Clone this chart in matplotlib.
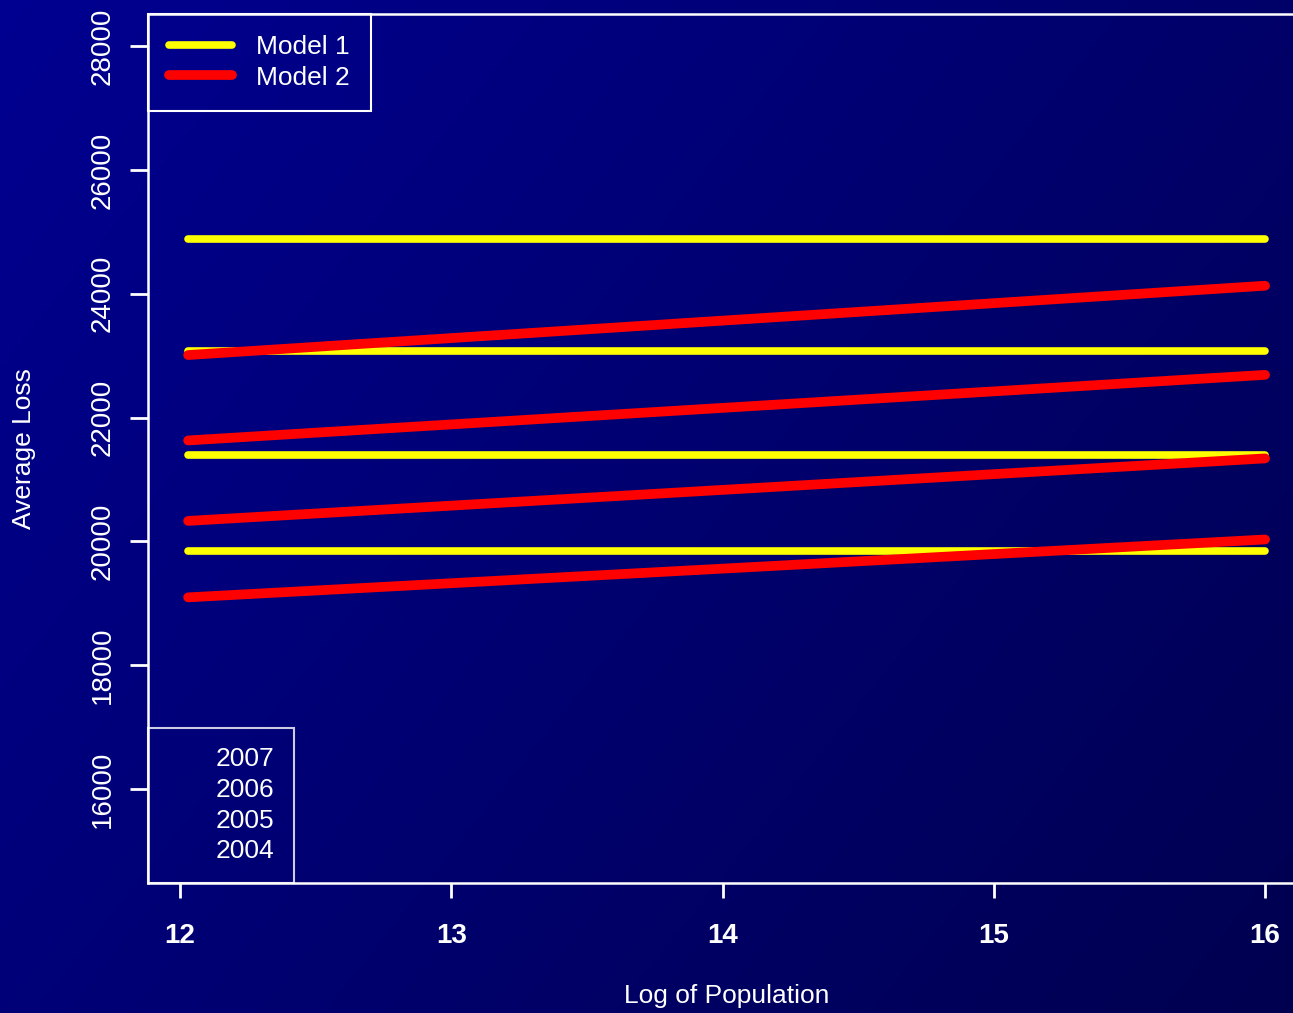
import numpy as np
import matplotlib
matplotlib.use("Agg")
import matplotlib.pyplot as plt
from matplotlib.lines import Line2D

plt.rcParams['font.family'] = ['Liberation Sans', 'DejaVu Sans']

# data
years = ['2007', '2006', '2005', '2004']
log_pop = [12.03, 16.0]
model1 = [24880, 23080, 21390, 19840]          # flat lines
model2_start = [23010, 21630, 20330, 19095]    # at log_pop[0]
model2_end = [24130, 22690, 21340, 20030]      # at log_pop[1]
xticks = [12, 13, 14, 15, 16]
yticks = [16000, 18000, 20000, 22000, 24000, 26000, 28000]

fig = plt.figure(figsize=(12.93, 10.13), dpi=100)

# diagonal blue gradient behind everything
bg = fig.add_axes([0, 0, 1, 1], zorder=-10)
gx, gy = np.meshgrid(np.linspace(0, 1, 300), np.linspace(0, 1, 300))
blue = (145 - 40 * gx - 25 * gy) / 255.0
img = np.zeros((300, 300, 3))
img[..., 2] = blue
bg.imshow(img, aspect='auto', extent=[0, 1, 0, 1], origin='upper')
bg.axis('off')

ax = fig.add_axes([148 / 1293, 130 / 1013, 1158 / 1293, 869 / 1013])
ax.set_facecolor('none')

for i in range(len(years)):
    ax.plot(log_pop, [model1[i], model1[i]], color='yellow', lw=5.5,
            solid_capstyle='round', zorder=2)
for i in range(len(years)):
    ax.plot(log_pop, [model2_start[i], model2_end[i]], color='red', lw=7,
            solid_capstyle='round', zorder=3)

ax.set_xlim(11.882, 16.151)
ax.set_ylim(14480, 28520)
ax.set_xticks(xticks)
ax.set_yticks(yticks)
ax.set_xticklabels([str(t) for t in xticks], fontweight='bold', fontsize=20)
ax.set_yticklabels([str(t) for t in yticks], rotation=90, va='center', fontsize=20)
ax.tick_params(axis='x', colors='white', length=11, width=2, pad=18)
ax.tick_params(axis='y', colors='white', length=13, width=2, pad=10)

for side in ['top', 'left', 'bottom']:
    ax.spines[side].set_color('white')
    ax.spines[side].set_linewidth(1.8)
ax.spines['right'].set_visible(False)

ax.set_xlabel('Log of Population', color='white', fontsize=19)
ax.set_ylabel('Average Loss', color='white', fontsize=19)
ax.xaxis.set_label_coords(0.5, -0.116)
ax.yaxis.set_label_coords(-0.097, 0.5)

handles = [Line2D([], [], color='yellow', lw=5.5, solid_capstyle='round'),
           Line2D([], [], color='red', lw=7, solid_capstyle='round')]
leg1 = ax.legend(handles, ['Model 1', 'Model 2'], loc='upper left',
                 bbox_to_anchor=(0, 1), borderaxespad=0, fontsize=19,
                 handlelength=2.4, handletextpad=0.9, labelspacing=0.25,
                 borderpad=0.8, fancybox=False, framealpha=1,
                 facecolor='none', edgecolor='white', labelcolor='white')
leg1.get_frame().set_linewidth(1.5)
ax.add_artist(leg1)

blank = [Line2D([], [], linestyle='none') for _ in years]
leg2 = ax.legend(blank, years, loc='lower left', bbox_to_anchor=(0, 0),
                 borderaxespad=0, fontsize=19, handlelength=1.2,
                 handletextpad=0.6, labelspacing=0.25, borderpad=0.75,
                 fancybox=False, facecolor='none', edgecolor='white',
                 labelcolor='white')
leg2.get_frame().set_linewidth(1.5)

fig.savefig('out.png', dpi=100)
